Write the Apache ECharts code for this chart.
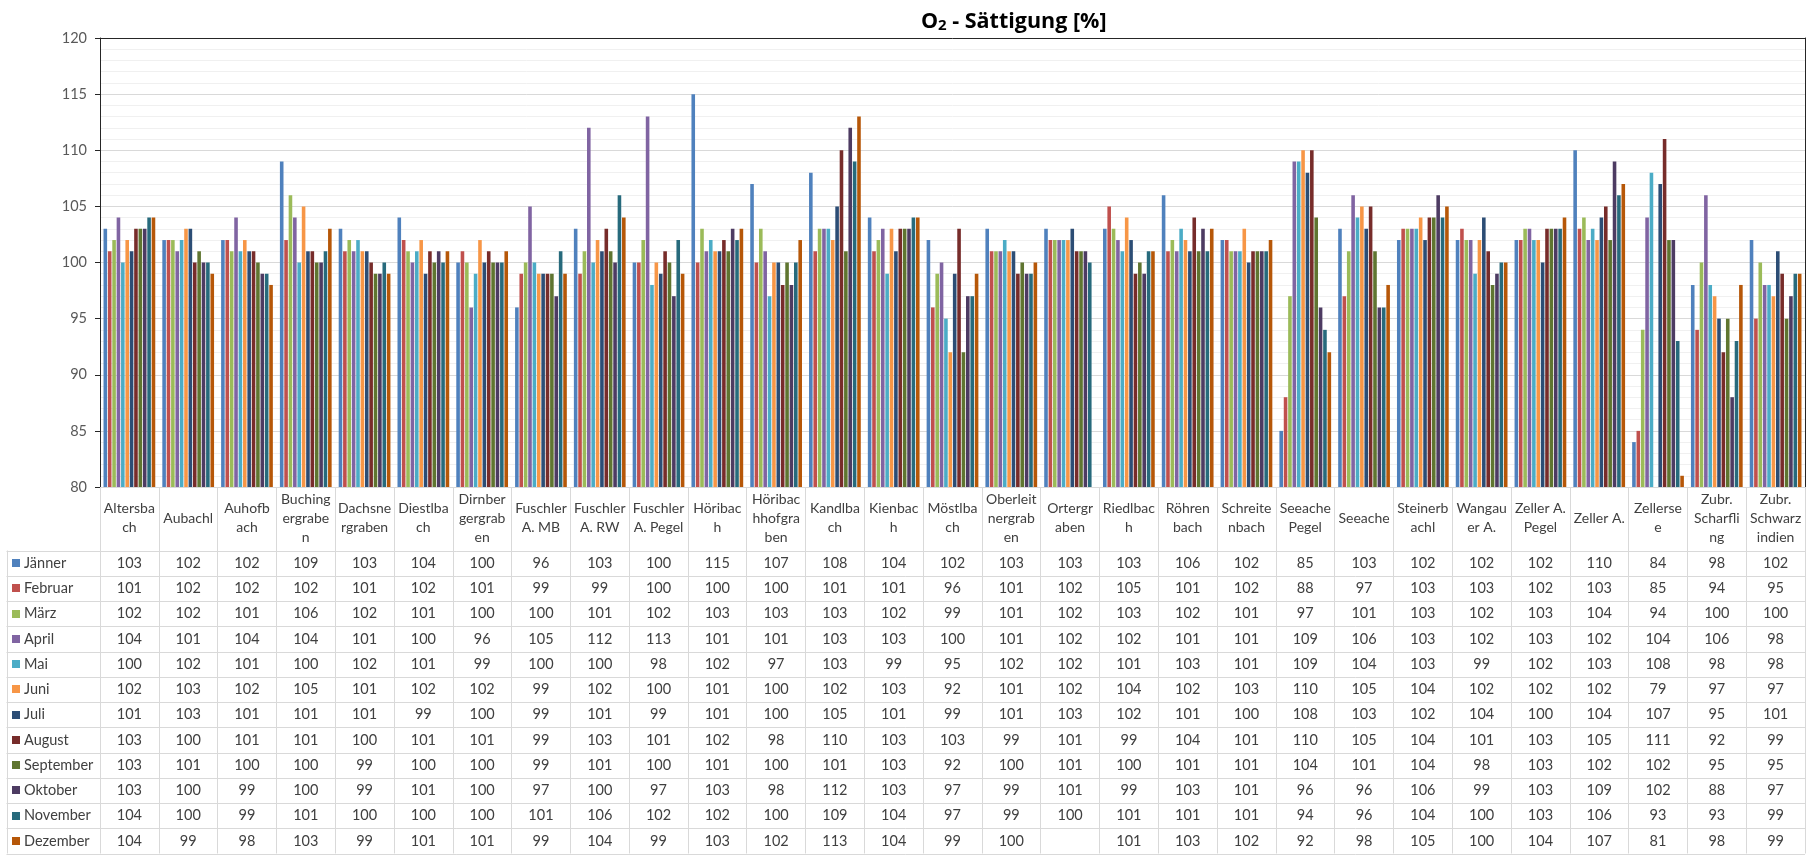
<!DOCTYPE html>
<html>
<head>
<meta charset="utf-8">
<title>O2 - Sättigung [%]</title>
<script src="https://cdn.jsdelivr.net/npm/echarts@6/dist/echarts.min.js"></script>
<style>
  html, body { margin: 0; padding: 0; background: #ffffff; }
  #chart { width: 1809px; height: 857px; }
</style>
</head>
<body>
<div id="chart"></div>
<script>
// Messstellen (categories) and their wrapped header labels as shown in the table head
const categories = [
  'Altersbach', 'Aubachl', 'Auhofbach', 'Buchingergraben', 'Dachsnergraben', 'Diestlbach',
  'Dirnbergergraben', 'Fuschler A. MB', 'Fuschler A. RW', 'Fuschler A. Pegel', 'Höribach',
  'Höribachhofgraben', 'Kandlbach', 'Kienbach', 'Möstlbach', 'Oberleitnergraben', 'Ortergraben',
  'Riedlbach', 'Röhrenbach', 'Schreitenbach', 'Seeache Pegel', 'Seeache', 'Steinerbachl',
  'Wangauer A.', 'Zeller A. Pegel', 'Zeller A.', 'Zellersee', 'Zubr. Scharfling', 'Zubr. Schwarzindien'
];
const tickLabels = [
  'Altersba\nch', 'Aubachl', 'Auhofb\nach', 'Buching\nergrabe\nn', 'Dachsne\nrgraben', 'Diestlba\nch',
  'Dirnber\ngergrab\nen', 'Fuschler\nA. MB', 'Fuschler\nA. RW', 'Fuschler\nA. Pegel', 'Höribac\nh',
  'Höribac\nhhofgra\nben', 'Kandlba\nch', 'Kienbac\nh', 'Möstlba\nch', 'Oberleit\nnergrab\nen', 'Ortergr\naben',
  'Riedlbac\nh', 'Röhren\nbach', 'Schreite\nnbach', 'Seeache\nPegel', 'Seeache', 'Steinerb\nachl',
  'Wangau\ner A.', 'Zeller A.\nPegel', 'Zeller A.', 'Zellerse\ne', 'Zubr.\nScharfli\nng', 'Zubr.\nSchwarz\nindien'
];
const months = ['Jänner', 'Februar', 'März', 'April', 'Mai', 'Juni', 'Juli', 'August',
  'September', 'Oktober', 'November', 'Dezember'];
const yTicks = { min: 80, max: 120, step: 5 };

// O2-Sättigung [%] per month, one value per Messstelle
const jaenner   = [103,102,102,109,103,104,100, 96,103,100,115,107,108,104,102,103,103,103,106,102, 85,103,102,102,102,110, 84, 98,102];
const februar   = [101,102,102,102,101,102,101, 99, 99,100,100,100,101,101, 96,101,102,105,101,102, 88, 97,103,103,102,103, 85, 94, 95];
const maerz     = [102,102,101,106,102,101,100,100,101,102,103,103,103,102, 99,101,102,103,102,101, 97,101,103,102,103,104, 94,100,100];
const april     = [104,101,104,104,101,100, 96,105,112,113,101,101,103,103,100,101,102,102,101,101,109,106,103,102,103,102,104,106, 98];
const mai       = [100,102,101,100,102,101, 99,100,100, 98,102, 97,103, 99, 95,102,102,101,103,101,109,104,103, 99,102,103,108, 98, 98];
const juni      = [102,103,102,105,101,102,102, 99,102,100,101,100,102,103, 92,101,102,104,102,103,110,105,104,102,102,102, 79, 97, 97];
const juli      = [101,103,101,101,101, 99,100, 99,101, 99,101,100,105,101, 99,101,103,102,101,100,108,103,102,104,100,104,107, 95,101];
const august    = [103,100,101,101,100,101,101, 99,103,101,102, 98,110,103,103, 99,101, 99,104,101,110,105,104,101,103,105,111, 92, 99];
const september = [103,101,100,100, 99,100,100, 99,101,100,101,100,101,103, 92,100,101,100,101,101,104,101,104, 98,103,102,102, 95, 95];
const oktober   = [103,100, 99,100, 99,101,100, 97,100, 97,103, 98,112,103, 97, 99,101, 99,103,101, 96, 96,106, 99,103,109,102, 88, 97];
const november  = [104,100, 99,101,100,100,100,101,106,102,102,100,109,104, 97, 99,100,101,101,101, 94, 96,104,100,103,106, 93, 93, 99];
const dezember  = [104, 99, 98,103, 99,101,101, 99,104, 99,103,102,113,104, 99,100,null,101,103,102, 92, 98,105,100,104,107, 81, 98, 99];

const monthValues = [jaenner, februar, maerz, april, mai, juni, juli, august, september, oktober, november, dezember];
const monthColors = ['#4F81BD', '#C0504D', '#9BBB59', '#8064A2', '#4BACC6', '#F79646',
  '#2C4D75', '#772C2A', '#5F7530', '#4D3B62', '#276A7C', '#B65708'];

const FONT = 'Lato, "Noto Sans", sans-serif';
const TEXT = '#404040';
const TABLE_LINE = '#d9d9d9';
const HEADER_H = 63.5;
const ROW_H = 25.25;
const TABLE_LEFT = 6.5;

const chart = echarts.init(document.getElementById('chart'), null, { renderer: 'canvas' });

const option = {
  animation: false,
  backgroundColor: '#ffffff',
  title: {
    text: '{b|O}{s|2}{b| - Sättigung [%]}',
    left: 916,
    top: 0,
    textStyle: {
      rich: {
        b: { fontFamily: '"Open Sans", sans-serif', fontWeight: 'bold', fontSize: 21.5, color: '#000', verticalAlign: 'bottom', lineHeight: 28 },
        s: { fontFamily: '"Open Sans", sans-serif', fontWeight: 'bold', fontSize: 15, color: '#000', verticalAlign: 'bottom', lineHeight: 27 }
      }
    }
  },
  grid: { left: 100, right: 4, top: 38, bottom: 370, containLabel: false },
  xAxis: [
    {
      type: 'category',
      data: categories,
      position: 'bottom',
      axisLine: { lineStyle: { color: TABLE_LINE, width: 1 } },
      axisTick: {
        show: true, interval: 0, inside: false,
        length: HEADER_H + ROW_H * months.length,
        lineStyle: { color: TABLE_LINE, width: 1 }
      },
      axisLabel: {
        interval: 0,
        margin: 31,
        verticalAlign: 'middle',
        lineHeight: 19,
        fontFamily: FONT,
        fontSize: 14,
        color: TEXT,
        formatter: (v, i) => tickLabels[i]
      },
      splitLine: { show: false }
    },
    {
      type: 'category',
      data: categories,
      position: 'top',
      axisLine: { lineStyle: { color: '#262626', width: 1 } },
      axisTick: { show: false },
      axisLabel: { show: false },
      splitLine: { show: false }
    }
  ],
  yAxis: [
    {
      type: 'value',
      min: yTicks.min,
      max: yTicks.max,
      interval: yTicks.step,
      axisLine: { show: true, lineStyle: { color: '#262626', width: 1 } },
      axisTick: { show: true, length: 5, lineStyle: { color: '#262626' } },
      axisLabel: { margin: 13, fontFamily: FONT, fontSize: 14.5, color: '#595959' },
      splitLine: { show: true, lineStyle: { color: '#d9d9d9', width: 1 } },
      minorTick: { show: false, splitNumber: 5 },
      minorSplitLine: { show: true, lineStyle: { color: '#f0f0f0', width: 1 } }
    },
    {
      type: 'value',
      min: yTicks.min,
      max: yTicks.max,
      position: 'right',
      axisLine: { show: true, lineStyle: { color: '#262626', width: 1 } },
      axisTick: { show: false },
      axisLabel: { show: false },
      splitLine: { show: false }
    }
  ],
  series: months.map((m, k) => ({
    name: m,
    type: 'bar',
    data: monthValues[k],
    itemStyle: { color: monthColors[k] },
    barCategoryGap: '12%',
    barGap: '22%',
    clip: true
  }))
};

chart.setOption(option);

// Data table under the plot: legend column plus one value cell per Messstelle and month
function buildTable() {
  const axisY = chart.convertToPixel({ yAxisIndex: 0 }, yTicks.min);
  const firstRowTop = axisY + HEADER_H;
  const c0 = chart.convertToPixel({ xAxisIndex: 0 }, categories[0]);
  const c1 = chart.convertToPixel({ xAxisIndex: 0 }, categories[1]);
  const band = c1 - c0;
  const plotLeft = c0 - band / 2;
  const plotRight = plotLeft + band * categories.length;
  const crisp = v => Math.round(v) + 0.5;

  const elements = [];
  // horizontal row borders
  for (let r = 0; r <= months.length; r++) {
    const y = crisp(firstRowTop + r * ROW_H);
    elements.push({
      type: 'line', silent: true,
      shape: { x1: TABLE_LEFT, y1: y, x2: plotRight, y2: y },
      style: { stroke: TABLE_LINE, lineWidth: 1 }
    });
  }
  // left border of the legend column
  elements.push({
    type: 'line', silent: true,
    shape: { x1: crisp(TABLE_LEFT), y1: firstRowTop, x2: crisp(TABLE_LEFT), y2: firstRowTop + ROW_H * months.length },
    style: { stroke: TABLE_LINE, lineWidth: 1 }
  });

  months.forEach((m, r) => {
    const cy = firstRowTop + (r + 0.5) * ROW_H;
    elements.push({
      type: 'rect', silent: true,
      shape: { x: 12, y: Math.round(cy - 4), width: 8, height: 8 },
      style: { fill: monthColors[r] }
    });
    elements.push({
      type: 'text', silent: true, x: 24, y: cy,
      style: { text: m, fontFamily: FONT, fontSize: 14.5, fill: TEXT, align: 'left', verticalAlign: 'middle' }
    });
    categories.forEach((c, i) => {
      const v = monthValues[r][i];
      if (v === null || v === undefined) return;
      elements.push({
        type: 'text', silent: true,
        x: chart.convertToPixel({ xAxisIndex: 0 }, c), y: cy,
        style: { text: String(v), fontFamily: FONT, fontSize: 14.5, fill: TEXT, align: 'center', verticalAlign: 'middle' }
      });
    });
  });

  chart.setOption({ graphic: { elements: elements } });
}

buildTable();
</script>
</body>
</html>
